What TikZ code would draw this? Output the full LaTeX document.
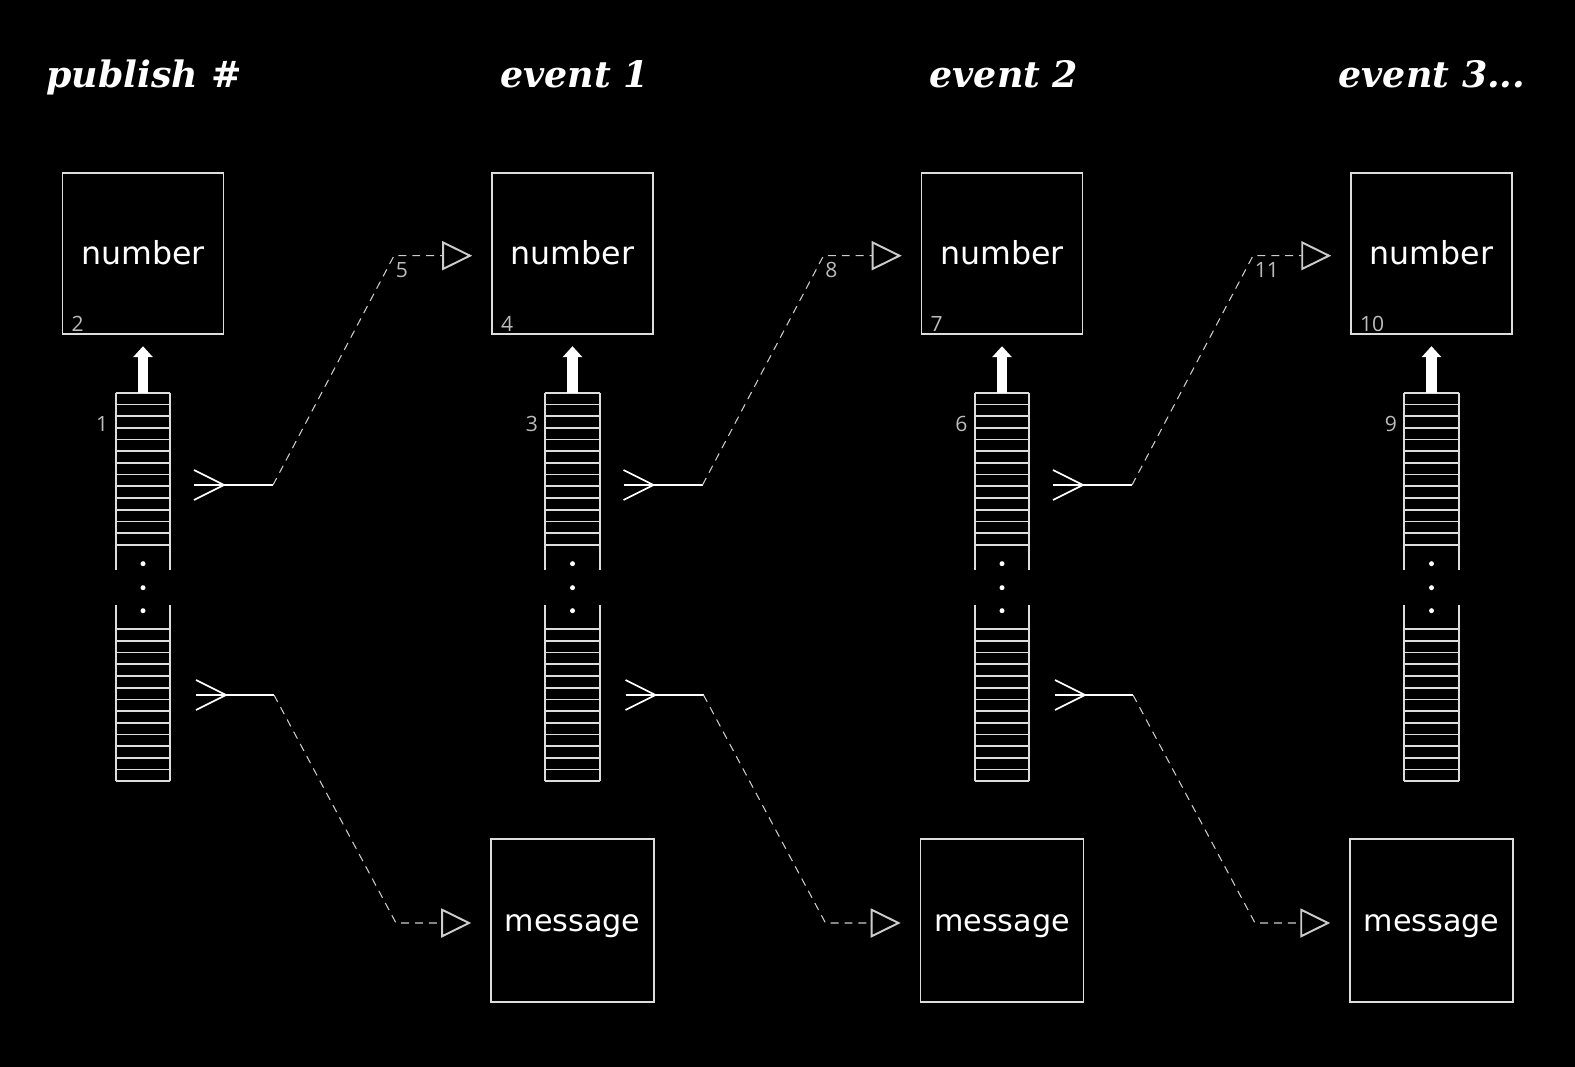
\documentclass[tikz,border=0pt]{standalone}
\usepackage{fontspec}
\setmainfont{DejaVu Serif}
\setsansfont{DejaVu Sans}
\newfontfamily\numfont{Open Sans}
\usetikzlibrary{arrows.meta,calc}

\definecolor{boxgray}{HTML}{DDDDDD}
\definecolor{wiregray}{HTML}{CCCCCC}
\definecolor{labelgray}{HTML}{BBBBBB}

\begin{document}
\begin{tikzpicture}[x=0.02cm, y=-0.02cm,
  title/.style={text=white, font=\fontsize{20.7}{24}\selectfont\bfseries\itshape, anchor=base, inner sep=0pt},
  cell/.style={draw=boxgray, line width=0.9pt, text=white, minimum size=3.22cm, inner sep=0pt,
    font=\sffamily\fontsize{18}{20}\selectfont, text height=14.4pt, text depth=1.8pt},
  mcell/.style={cell, minimum size=3.26cm, font=\sffamily\fontsize{17.2}{20}\selectfont},
  stack/.style={minimum width=1.08cm, minimum height=7.76cm, inner sep=0pt},
  tag/.style={text=labelgray, font=\numfont\fontsize{12}{12}\selectfont, inner sep=0pt},
  stripe/.style={boxgray, line width=1pt},
  push/.style={white, line width=6.2pt, -{Triangle[width=10.8pt,length=6.2pt]}, shorten >=6.5pt},
  wire/.style={white, line width=0.7pt},
  barb/.style={white, line width=1pt},
  feed/.style={wiregray, line width=0.6pt, dash pattern=on 4.5pt off 3.4pt,
    -{Triangle[open, length=0.6cm, width=0.58cm, line width=1.1pt]}, shorten >=0.38cm}
]
\fill[black] (0,0) rectangle (1575,1067);
\useasboundingbox (0,0) rectangle (1575,1067);

% headings
\node[title] (h1) at (144,88) {publish \#};
\node[title] (h2) at (574.5,88) {event 1};
\node[title] (h3) at (1004,88) {event 2};
\node[title] (h4) at (1432,88) {event 3...};

% number boxes
\node[cell] (n1) at (143,253.5) {number};
\node[cell] (n2) at (572.5,253.5) {number};
\node[cell] (n3) at (1002,253.5) {number};
\node[cell] (n4) at (1431.5,253.5) {number};

% message boxes
\node[mcell] (m2) at (572.5,920.5) {message};
\node[mcell] (m3) at (1002,920.5) {message};
\node[mcell] (m4) at (1431.5,920.5) {message};

% stacks
\node[stack] (q1) at (143,587) {};
\node[stack] (q2) at (572.5,587) {};
\node[stack] (q3) at (1002,587) {};
\node[stack] (q4) at (1431.5,587) {};

\foreach \q in {q1,q2,q3,q4} {
  \draw[stripe] (\q.north west) -- ++(0,177);
  \draw[stripe] (\q.north east) -- ++(0,177);
  \draw[stripe] (\q.south west) -- ++(0,-176);
  \draw[stripe] (\q.south east) -- ++(0,-176);
  \foreach \k in {0,...,13} {
    \draw[stripe] ($(\q.north west)+(0,11.7*\k)$) -- ($(\q.north east)+(0,11.7*\k)$);
    \draw[stripe] ($(\q.south west)+(0,-11.7*\k)$) -- ($(\q.south east)+(0,-11.7*\k)$);
  }
  \foreach \d in {171,195,218}
    \fill[white] ($(\q.north)+(0,\d)$) circle (0.05cm);
}

% pushes up
\draw[push] (q1.north) -- (n1.south);
\draw[push] (q2.north) -- (n2.south);
\draw[push] (q3.north) -- (n3.south);
\draw[push] (q4.north) -- (n4.south);

% links to the next event
\foreach \i/\c/\nx/\mx in {1/143/n2/m2, 2/572.5/n3/m3, 3/1002/n4/m4} {
  \coordinate (us\i) at (\c+51,485);
  \coordinate (up\i) at (\c+81,485);
  \coordinate (ub\i) at (\c+130,485);
  \coordinate (uk\i) at (\c+251,255.7);
  \coordinate (ls\i) at (\c+53,695);
  \coordinate (lp\i) at (\c+83,695);
  \coordinate (lb\i) at (\c+131,695);
  \coordinate (lk\i) at (\c+253,923);

  \draw[wire] (us\i) -- (ub\i);
  \draw[barb] ($(us\i)+(0,-15)$) -- (up\i) -- ($(us\i)+(0,15)$);
  \draw[feed] (ub\i) -- (uk\i) -- (uk\i -| \nx.west);

  \draw[wire] (ls\i) -- (lb\i);
  \draw[barb] ($(ls\i)+(0,-15)$) -- (lp\i) -- ($(ls\i)+(0,15)$);
  \draw[feed] (lb\i) -- (lk\i) -- (lk\i -| \mx.west);
}

% step numbers
\node[tag, anchor=east] (t1) at ($(q1.north west)+(-7,31.5)$) {1};
\node[tag, anchor=south west] (t2) at ($(n1.south west)+(9.5,-2.6)$) {2};
\node[tag, anchor=east] (t3) at ($(q2.north west)+(-7,31.5)$) {3};
\node[tag, anchor=south west] (t4) at ($(n2.south west)+(9.5,-2.6)$) {4};
\node[tag, anchor=north west] (t5) at ($(uk1)+(1.5,6)$) {5};
\node[tag, anchor=east] (t6) at ($(q3.north west)+(-7,31.5)$) {6};
\node[tag, anchor=south west] (t7) at ($(n3.south west)+(9.5,-2.6)$) {7};
\node[tag, anchor=north west] (t8) at ($(uk2)+(1.5,6)$) {8};
\node[tag, anchor=east] (t9) at ($(q4.north west)+(-7,31.5)$) {9};
\node[tag, anchor=south west] (t10) at ($(n4.south west)+(9.5,-2.6)$) {10};
\node[tag, anchor=north west] (t11) at ($(uk3)+(1.5,6)$) {11};
\end{tikzpicture}
\end{document}
